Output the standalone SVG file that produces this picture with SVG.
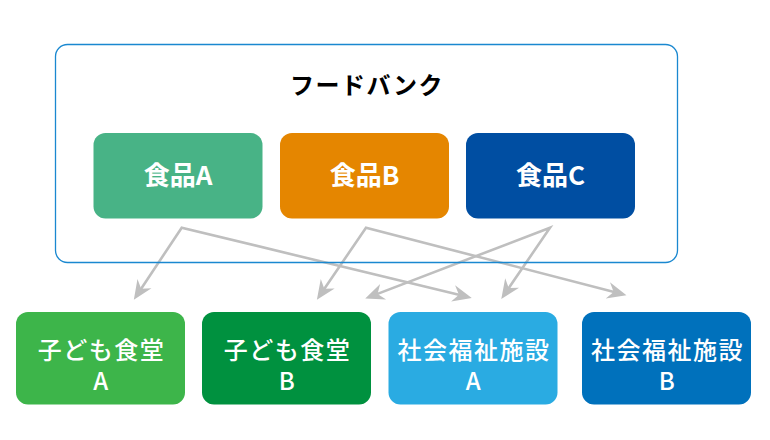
<svg xmlns="http://www.w3.org/2000/svg" width="770" height="440" viewBox="0 0 770 440">
<defs>
<style>
.box{stroke:none}
.t{font-family:"Noto Sans CJK JP","Noto Sans",sans-serif;fill:#fff;text-anchor:middle}
.top{font-size:26px;font-weight:700}
.bot{font-size:24px;font-weight:500;letter-spacing:1.5px}
.title{font-family:"Noto Sans CJK JP","Noto Sans",sans-serif;font-size:24px;font-weight:700;fill:#000;text-anchor:middle;letter-spacing:1.5px}
.conn{fill:none;stroke:#bfbfbf;stroke-width:2.6;stroke-linejoin:miter;marker-start:url(#ah);marker-end:url(#ah)}
</style>
<marker id="ah" markerUnits="userSpaceOnUse" orient="auto-start-reverse" refX="-4" refY="0" markerWidth="30" markerHeight="30" viewBox="-20 -10 25 20" overflow="visible">
<path d="M0,0 L-16,-7 L-11,0 L-16,7 Z" fill="#bfbfbf"/>
</marker>
</defs>
<rect width="770" height="440" fill="#fff"/>
<g id="foodbank-bg">
<rect x="55.5" y="44.5" width="622" height="218" rx="12" fill="#fff"/>
</g>
<g id="connectors">
<path class="conn" d="M136.5,295.7 L181.7,227.7 L467.1,296.8"/>
<path class="conn" d="M319.6,295.7 L366,227.7 L621.8,294"/>
<path class="conn" d="M369.7,296.9 L550,227.7 L504,295"/>
</g>
<g id="foodbank">
<rect x="55.5" y="44.5" width="622" height="218" rx="12" fill="none" stroke="#1a88d0" stroke-width="1.3"/>
<text class="title" x="367" y="94">フードバンク</text>
</g>
<g id="food-a">
<rect class="box" x="93.5" y="133" width="169" height="85.5" rx="12" fill="#48b386"/>
<text class="t top" x="178" y="185">食品A</text>
</g>
<g id="food-b">
<rect class="box" x="280" y="133" width="169" height="85.5" rx="12" fill="#e58600"/>
<text class="t top" x="364.5" y="185">食品B</text>
</g>
<g id="food-c">
<rect class="box" x="466" y="133" width="169" height="85.5" rx="12" fill="#004ea2"/>
<text class="t top" x="550.5" y="185">食品C</text>
</g>
<g id="kodomo-a">
<rect class="box" x="16" y="312" width="169" height="92.5" rx="12" fill="#3db54a"/>
<text class="t bot" x="101.5" y="358.5">子ども食堂</text>
<text class="t bot" x="101.5" y="389.5">A</text>
</g>
<g id="kodomo-b">
<rect class="box" x="202" y="312" width="169" height="92.5" rx="12" fill="#00913f"/>
<text class="t bot" x="287.5" y="358.5">子ども食堂</text>
<text class="t bot" x="287.5" y="389.5">B</text>
</g>
<g id="fukushi-a">
<rect class="box" x="388.5" y="312" width="169" height="92.5" rx="12" fill="#2aabe2"/>
<text class="t bot" x="474" y="358.5">社会福祉施設</text>
<text class="t bot" x="474" y="389.5">A</text>
</g>
<g id="fukushi-b">
<rect class="box" x="582" y="312" width="169" height="92.5" rx="12" fill="#0071bc"/>
<text class="t bot" x="667.5" y="358.5">社会福祉施設</text>
<text class="t bot" x="667.5" y="389.5">B</text>
</g>
</svg>
